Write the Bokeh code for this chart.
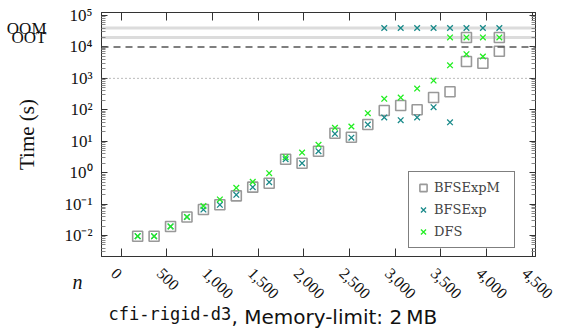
import math
from bokeh.plotting import figure
from bokeh.models import (Range1d, FixedTicker, NumeralTickFormatter, CustomJSTickFormatter,
                          LinearAxis, LogAxis, Span, Label, Legend, LegendItem)
from bokeh.embed import file_html
from bokeh.resources import INLINE

# ---- data ----
OOM = 4e4   # out-of-memory marker level
OOT = 2e4   # out-of-time marker level
TIMEOUT = 1e4
REF_LINE = 1e3

x_ticks = [0, 500, 1000, 1500, 2000, 2500, 3000, 3500, 4000, 4500]
y_ticks = [1e-2, 1e-1, 1e0, 1e1, 1e2, 1e3, 1e4, 1e5]

n_bfsexpm = [180, 360, 540, 720, 900, 1080, 1260, 1440, 1620, 1800, 1980, 2160,
             2340, 2520, 2700, 2880, 3060, 3240, 3420, 3600, 3780, 3960, 4140,
             3780, 4140]
t_bfsexpm = [0.0095, 0.0095, 0.0194, 0.039, 0.067, 0.095, 0.183, 0.345, 0.46, 2.68, 2.0, 4.8,
             18, 13.4, 34, 95, 137, 100, 245, 373, 3440, 3040, 7310,
             OOT, OOT]

n_bfsexp = [180, 360, 540, 720, 900, 1080, 1260, 1440, 1620, 1800, 1980, 2160,
            2340, 2520, 2700, 2880, 3060, 3240, 3420, 3600,
            2880, 3060, 3240, 3420, 3600, 3780, 3960, 4140]
t_bfsexp = [0.0095, 0.0095, 0.0194, 0.039, 0.067, 0.095, 0.197, 0.345, 0.497, 2.68, 2.0, 4.8,
            17.2, 12.9, 34, 57, 46.7, 57, 121, 40,
            OOM, OOM, OOM, OOM, OOM, OOM, OOM, OOM]

n_dfs = [180, 360, 540, 720, 900, 1080, 1260, 1440, 1620, 1800, 1980, 2160,
         2340, 2520, 2700, 2880, 3060, 3240, 3420, 3600, 3780, 3960,
         3600, 3780, 3960, 4140]
t_dfs = [0.0095, 0.0095, 0.0194, 0.039, 0.086, 0.14, 0.33, 0.51, 0.96, 3.1, 4.37, 7.7,
         26.7, 29.4, 78, 224, 245, 475, 850, 2600, 5880, 4960,
         OOT, OOT, OOT, OOT]

caption_mono = "cfi-rigid-d3"
caption_sans = ", Memory-limit: 2\u2009MB"

# ---- figure ----
X0, X1 = -216, 4536
p = figure(width=564, height=332, output_backend="svg", toolbar_location=None,
           x_range=Range1d(X0, X1), y_range=Range1d(10 ** -2.668, 10 ** 5.0954),
           y_axis_type="log", min_border_left=101, min_border_right=29,
           min_border_top=12, min_border_bottom=76)
p.grid.visible = False
p.outline_line_color = "#333333"
p.background_fill_color = "white"
p.border_fill_color = "white"

# screen px -> data x (frame spans 101..535)
def px2x(px):
    return X0 + (px - 101) * (X1 - X0) / 434.0

# label range shifted so rotated tick labels sit like the reference's
p.extra_x_ranges = {"lbl": Range1d(X0 + 80, X1 + 80)}

minor_y = [m * 10 ** e for e in range(-3, 6) for m in range(2, 10)]
xt = FixedTicker(ticks=x_ticks)
yt = FixedTicker(ticks=y_ticks, minor_ticks=minor_y)

sup_js = """
const e = Math.round(Math.log10(tick));
const s = {'0':'\u2070','1':'\u00b9','2':'\u00b2','3':'\u00b3','4':'\u2074','5':'\u2075',
           '6':'\u2076','7':'\u2077','8':'\u2078','9':'\u2079','-':'\u207b'};
let out = '10';
for (const c of String(e)) out += s[c];
return out;
"""
blank = "return '';"

def base_axis(ax):
    ax.axis_line_color = "#333333"
    ax.major_tick_line_color = "#333333"
    ax.minor_tick_line_color = "#888888"
    ax.major_tick_out = 0
    ax.minor_tick_out = 0

def hide_labels(ax):
    ax.formatter = CustomJSTickFormatter(code=blank)
    ax.major_label_text_font_size = "1px"
    ax.major_label_standoff = 0

def text_only(ax):
    ax.axis_line_color = None
    ax.major_tick_line_color = None
    ax.minor_tick_line_color = None
    ax.major_tick_in = 0
    ax.major_tick_out = 0
    ax.minor_tick_in = 0
    ax.minor_tick_out = 0

# bottom: tick marks only
xa = p.xaxis[0]
xa.ticker = xt
base_axis(xa)
hide_labels(xa)
xa.major_tick_in = 8

# bottom: rotated tick labels
xl = LinearAxis(x_range_name="lbl", ticker=xt, formatter=NumeralTickFormatter(format="0,0"))
text_only(xl)
xl.major_label_orientation = -math.pi / 4
xl.major_label_text_font = "Liberation Serif"
xl.major_label_text_font_size = "16px"
xl.major_label_text_color = "#111111"
xl.major_label_standoff = 14
p.add_layout(xl, "below")

# bottom: caption (two fonts, one row)
cap1 = LinearAxis(ticker=FixedTicker(ticks=[px2x(169.4)]),
                  formatter=CustomJSTickFormatter(args=dict(t=caption_mono), code="return t;"))
text_only(cap1)
cap1.major_label_orientation = "horizontal"
cap1.major_label_text_font = "DejaVu Sans Mono"
cap1.major_label_text_font_size = "17px"
cap1.major_label_text_color = "#111111"
cap1.major_label_standoff = -3
p.add_layout(cap1, "below")

cap2 = LinearAxis(ticker=FixedTicker(ticks=[px2x(333.8)]),
                  formatter=CustomJSTickFormatter(args=dict(t=caption_sans), code="return t;"))
text_only(cap2)
cap2.major_label_orientation = "horizontal"
cap2.major_label_text_font = "DejaVu Sans"
cap2.major_label_text_font_size = "20px"
cap2.major_label_text_color = "#111111"
cap2.major_label_standoff = -22
p.add_layout(cap2, "below")

# left: decades
ya = p.yaxis[0]
ya.ticker = yt
ya.formatter = CustomJSTickFormatter(code=sup_js)
base_axis(ya)
ya.major_tick_in = 6
ya.minor_tick_in = 4
ya.major_label_text_font = "Liberation Serif"
ya.major_label_text_font_size = "17px"
ya.major_label_text_color = "#111111"
ya.major_label_standoff = 9

# left: OOM / OOT labels + axis title
ya2 = LogAxis(ticker=FixedTicker(ticks=[OOT, OOM]),
              formatter=CustomJSTickFormatter(args=dict(oom=OOM, oot=OOT),
                                              code="return Math.abs(tick - oom) < 1 ? 'OOM' : 'OOT';"))
text_only(ya2)
ya2.major_label_text_font = "Liberation Serif"
ya2.major_label_text_font_size = "17px"
ya2.major_label_text_color = "#111111"
ya2.major_label_standoff = 15
ya2.axis_label = "Time (s)"
ya2.axis_label_text_font = "Liberation Serif"
ya2.axis_label_text_font_style = "normal"
ya2.axis_label_text_font_size = "21px"
ya2.axis_label_text_color = "#111111"
ya2.axis_label_standoff = -35
p.add_layout(ya2, "left")

top = LinearAxis(ticker=xt)
base_axis(top)
hide_labels(top)
top.major_tick_in = 8
p.add_layout(top, "above")

right = LogAxis(ticker=yt)
base_axis(right)
hide_labels(right)
right.major_tick_in = 6
right.minor_tick_in = 4
p.add_layout(right, "right")

# "n" axis name, placed in the right side panel so it is not clipped
p.add_layout(Label(x=-458, y=-25, x_units="screen", y_units="screen", text="n",
                   text_align="center", text_baseline="middle", text_font_style="italic",
                   text_font="Liberation Serif", text_font_size="20px", text_color="#111111"),
             "right")

# reference lines
for loc in (OOM, OOT):
    p.add_layout(Span(location=loc, dimension="width", line_color="#dcdcdc",
                      line_width=3, level="underlay"))
p.add_layout(Span(location=TIMEOUT, dimension="width", line_color="#555555",
                  line_width=1.4, line_dash="7 5"))
p.add_layout(Span(location=REF_LINE, dimension="width", line_color="#777777",
                  line_width=1, line_dash="1 3"))

r1 = p.scatter(n_bfsexpm, t_bfsexpm, marker="square", size=10, fill_color=None,
               line_color="#999999", line_width=1.6)
r2 = p.scatter(n_bfsexp, t_bfsexp, marker="x", size=8, line_color="#1a8a8a", line_width=1.3)
r3 = p.scatter(n_dfs, t_dfs, marker="x", size=8, line_color="#22ee22", line_width=1.3)

legend = Legend(items=[LegendItem(label="BFSExpM", renderers=[r1]),
                       LegendItem(label="BFSExp", renderers=[r2]),
                       LegendItem(label="DFS", renderers=[r3])],
                location=(307, 8), padding=5, spacing=1, glyph_width=18, glyph_height=21,
                label_height=21, label_width=75, label_standoff=2,
                label_text_font="DejaVu Serif", label_text_font_size="13px",
                border_line_color="black", border_line_width=1,
                background_fill_color="white", background_fill_alpha=1.0)
p.add_layout(legend)

open("out.html", "w").write(file_html(p, INLINE))
